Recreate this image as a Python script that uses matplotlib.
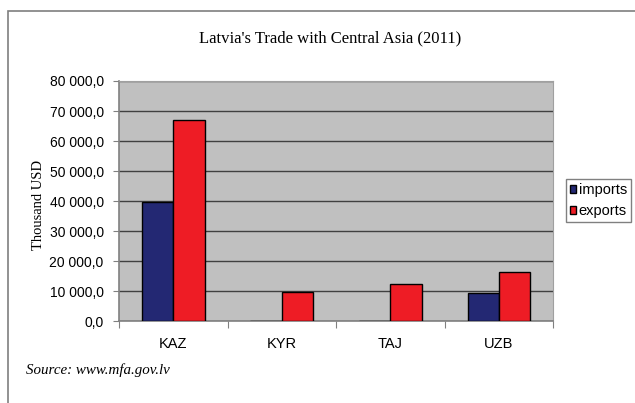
import matplotlib
matplotlib.use('Agg')
import matplotlib.pyplot as plt
from matplotlib.patches import Rectangle
from matplotlib.ticker import FuncFormatter, FixedLocator

countries = ['KAZ', 'KYR', 'TAJ', 'UZB']
imports = [39700, 60, 40, 9500]
exports = [67000, 9700, 12300, 16400]
y_ticks = [0, 10000, 20000, 30000, 40000, 50000, 60000, 70000, 80000]

plt.rcParams['font.family'] = 'Liberation Sans'

fig = plt.figure(figsize=(6.35, 4.03), dpi=100)

# outer chart frame (runs off the right and bottom edges)
fig.patches.append(Rectangle((8 / 635, -0.1), 1.2, 1 - 11 / 403 + 0.1,
                             transform=fig.transFigure, fill=False,
                             edgecolor='#7f7f7f', linewidth=1.2))

ax = fig.add_axes([119 / 635, 1 - 321.3 / 403, 434.3 / 635, 240.3 / 403])
ax.set_facecolor('#c0c0c0')

x = list(range(len(countries)))
w = 0.29
ax.bar([i - w / 2 for i in x], imports, w, color='#232873', edgecolor='black',
       linewidth=1, label='imports', zorder=3)
ax.bar([i + w / 2 for i in x], exports, w, color='#ee1c25', edgecolor='black',
       linewidth=1, label='exports', zorder=3)

ax.set_xlim(-0.5, len(countries) - 0.5)
ax.set_ylim(0, 80000)
ax.set_yticks(y_ticks)
ax.yaxis.set_major_formatter(FuncFormatter(
    lambda v, p: '{:,.1f}'.format(v).replace(',', ' ').replace('.', ',')))
ax.grid(axis='y', color='#404040', linewidth=1, zorder=1)

ax.xaxis.set_major_locator(FixedLocator([i - 0.5 for i in range(len(countries) + 1)]))
ax.xaxis.set_major_formatter(FuncFormatter(lambda v, p: ''))
ax.xaxis.set_minor_locator(FixedLocator(x))
ax.set_xticklabels(countries, minor=True)
ax.tick_params(axis='x', which='minor', length=0, pad=11, labelsize=10.5)
ax.tick_params(axis='x', which='major', length=5, color='#808080')
ax.tick_params(axis='y', length=4, color='#808080', labelsize=10, pad=7)

for s in ['left', 'bottom']:
    ax.spines[s].set_color('#808080')
    ax.spines[s].set_linewidth(1.2)
for s in ['top', 'right']:
    ax.spines[s].set_color('#a0a0a0')

fig.text(330 / 635, 1 - 38 / 403, "Latvia's Trade with Central Asia (2011)",
         family='Liberation Serif', fontsize=12, ha='center', va='center')
fig.text(38 / 635, 1 - 205 / 403, 'Thousand USD', family='Liberation Serif',
         fontsize=10.5, rotation=90, ha='center', va='center')
fig.text(26 / 635, 1 - 370 / 403, 'Source: www.mfa.gov.lv', family='Liberation Serif',
         style='italic', fontsize=10.8, ha='left', va='center')

leg = ax.legend(loc='upper left', bbox_to_anchor=(565.5 / 635, 1 - 179 / 403),
                bbox_transform=fig.transFigure, fancybox=False, framealpha=1,
                edgecolor='#808080', fontsize=10.5, handlelength=0.45,
                handleheight=0.45, handletextpad=0.15, borderpad=0.3,
                labelspacing=0.45, borderaxespad=0)
leg.get_frame().set_linewidth(1)

fig.savefig('out.png', dpi=100)
